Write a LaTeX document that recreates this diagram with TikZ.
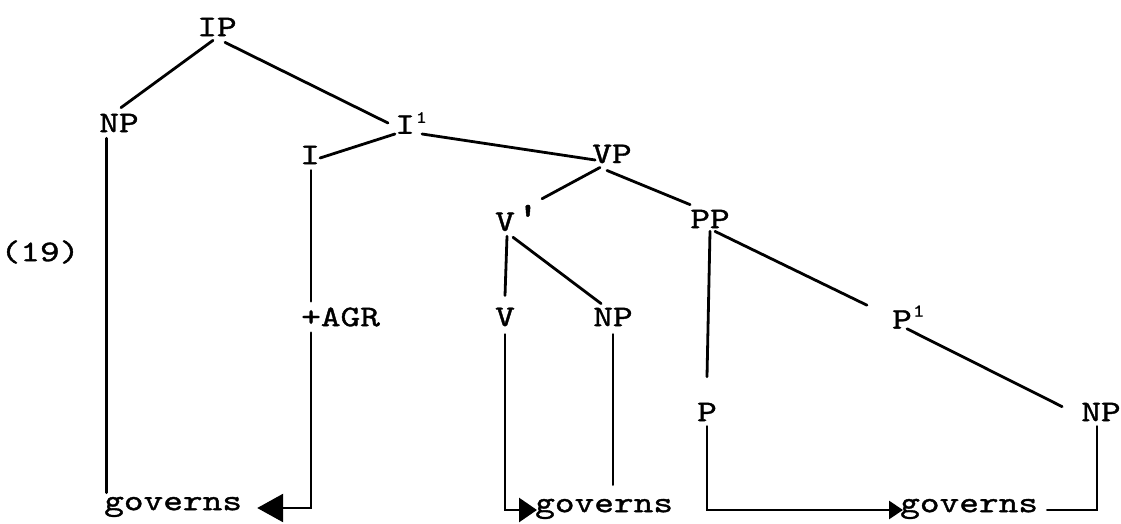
\documentclass[tikz,border=0pt]{standalone}
\usepackage{fontspec}
\newfontfamily\tw{lmmono10-regular.otf}[FakeStretch=1.25,FakeBold=1.2]
\usetikzlibrary{arrows.meta,calc}
% raised marks written after a category letter
\newcommand{\supone}{\rlap{\kern1pt\raisebox{11pt}{\fontsize{17}{17}\selectfont 1}}}
\newcommand{\suponebig}{\rlap{\kern1pt\raisebox{12pt}{\fontsize{18}{18}\selectfont 1}}}
\newcommand{\suptick}{\rlap{\kern0pt\raisebox{1pt}{\fontsize{40}{40}\selectfont\char"0027}}}
\begin{document}
\begin{tikzpicture}[x=1pt,y=-1pt,
  lab/.style={font=\tw\fontsize{30}{30}\selectfont, inner sep=0pt},
  edge/.style={line width=2.8pt, line cap=round},
  tipA/.style={-{Triangle[length=26pt,width=28pt]}},
  tipB/.style={-{Triangle[length=18pt,width=24pt]}},
  tipC/.style={-{Triangle[length=14pt,width=18pt]}}]
\useasboundingbox (0,0) rectangle (1121,524);
% tree labels
\node[lab] (ip)  at (217,27)  {IP};
\node[lab] (np1) at (119,123) {NP};
\node[lab] (ib)  at (405,123) {I\supone};
\node[lab] (i)   at (310,155) {I};
\node[lab] (vp)  at (612,154) {VP};
\node[lab] (vb)  at (505,218) {V\suptick};
\node[lab] (pp)  at (710,219) {PP};
\node[lab] (ex)  at (40,252)  {(19)};
\node[lab, anchor=west] (agr) at (301,317) {+AGR};
\node[lab] (v)   at (505,317) {V};
\node[lab] (np2) at (613,317) {NP};
\node[lab] (pb)  at (902,317) {P\suponebig};
\node[lab] (p)   at (707,412) {P};
\node[lab] (np3) at (1101,412) {NP};
\node[lab, anchor=mid west] (g1) at (104,508) {governs};
\node[lab, anchor=mid west] (g2) at (535,510) {governs};
\node[lab, anchor=mid west] (g3) at (900,510) {governs};
% branches
\draw[edge] ([shift={(-4,4)}]ip.south) -- ([shift={(2,-6)}]np1.north);
\draw[edge] ([shift={(8,6)}]ip.south) -- ([shift={(-7,0)}]ib.west);
\draw[edge] (ib.south west) -- ([shift={(0,3)}]i.east);
\draw[edge] ([shift={(7,0)}]ib.south east) -- ([shift={(3,6)}]vp.west);
\draw[edge] ([shift={(-12,4)}]vp.south) -- ([shift={(27,-6)}]vb.north east);
\draw[edge] ([shift={(-5,7)}]vp.south) -- ([shift={(0,-5)}]pp.north west);
\draw[edge] ([shift={(2,5)}]vb.south) -- ([shift={(0,-12)}]v.north);
\draw[edge] ([shift={(8,6)}]vb.south) -- ([shift={(8,-4)}]np2.north west);
\draw[edge] ([shift={(0,3)}]pp.south) -- ([shift={(0,-26)}]p.north);
\draw[edge] ([shift={(5,3)}]pp.south) -- ([shift={(-25,0)}]pb.north west);
\draw[edge] ([shift={(5,0)}]pb.south) -- ([shift={(-19,4)}]np3.north west);
\draw[edge] ([shift={(1,6)}]i.south) -- ($(i.south |- agr.north)+(1,-6)$);
% government paths
\draw[edge] ($(np1.south west)+(7,6)$) -- ($(np1.south west |- g1.north)+(7,-4)$);
\draw[edge] ($(np2.south)+(0,8)$) -- ($(np2.south |- g2.north)+(0,-14)$);
\draw[edge, tipA] ($(i.south |- agr.south)+(1,6)$) |- ([shift={(15,0)}]g1.mid east);
\draw[edge, tipB] ($(v.south)+(0,8)$) |- ([shift={(2,0)}]g2.mid west);
\draw[edge, tipC] ($(p.south)+(0,5)$) |- ([shift={(3,0)}]g3.mid west);
\draw[edge] ($(np3.south)+(-4,5)$) |- ([shift={(9,0)}]g3.mid east);
\end{tikzpicture}
\end{document}
